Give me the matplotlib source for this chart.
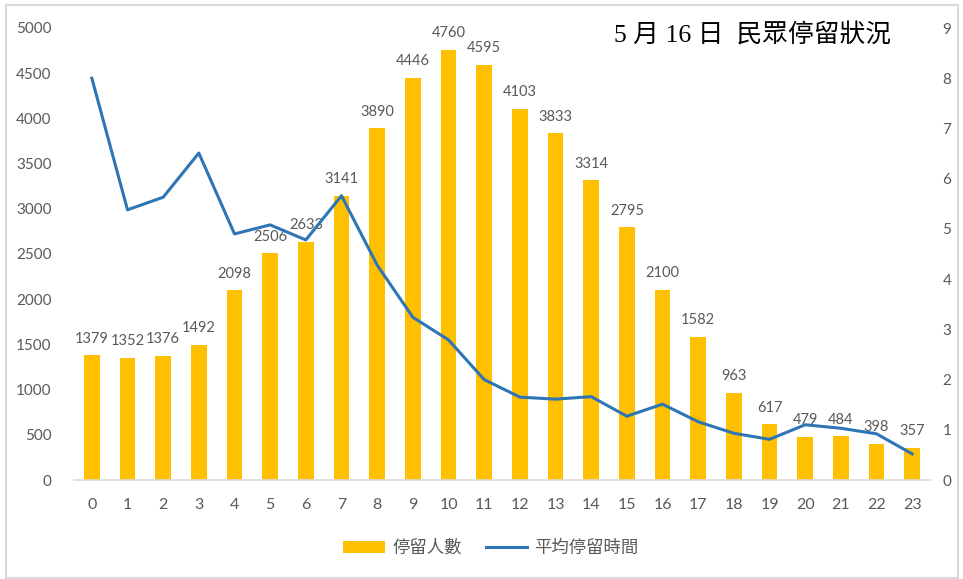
import matplotlib
matplotlib.use("Agg")
import matplotlib.pyplot as plt
from matplotlib.patches import Rectangle
import numpy as np

# hourly data for 5/16
hours = list(range(24))
people = [1379, 1352, 1376, 1492, 2098, 2506, 2633, 3141, 3890, 4446, 4760, 4595,
          4103, 3833, 3314, 2795, 2100, 1582, 963, 617, 479, 484, 398, 357]
avg_stay = [8.0, 5.38, 5.63, 6.51, 4.90, 5.08, 4.78, 5.66, 4.28, 3.24, 2.79, 2.0,
            1.65, 1.61, 1.66, 1.27, 1.51, 1.16, 0.93, 0.81, 1.10, 1.03, 0.92, 0.52]

left_ticks = [0, 500, 1000, 1500, 2000, 2500, 3000, 3500, 4000, 4500, 5000]
right_ticks = list(range(10))

title = "5 月 16 日  民眾停留狀況"
bar_name = "停留人數"
line_name = "平均停留時間"

BAR_C = "#FFC000"
LINE_C = "#2E75B6"
GREY = "#595959"
CJK = ["Noto Sans CJK TC", "DejaVu Sans"]

fig = plt.figure(figsize=(9.63, 5.79), dpi=100)
ax = fig.add_axes([74 / 963, 1 - 480 / 579, (930 - 74) / 963, (480 - 28) / 579])

bars = ax.bar(hours, people, width=0.44, color=BAR_C, label=bar_name, zorder=2)
for h, v in zip(hours, people):
    ax.annotate(str(v), (h, v), xytext=(0, 7), textcoords="offset points",
                ha="center", va="bottom", fontsize=10.5, color=GREY, family="Lato")

ax.set_xlim(-0.5, 23.5)
ax.set_ylim(0, 5000)
ax.set_xticks(hours)
ax.set_yticks(left_ticks)
for s in ["top", "right", "left"]:
    ax.spines[s].set_visible(False)
ax.spines["bottom"].set_color("#D9D9D9")
ax.spines["bottom"].set_linewidth(1.2)
ax.tick_params(axis="x", length=0, pad=13, labelsize=11.5, labelcolor=GREY)
ax.tick_params(axis="y", length=0, pad=16, labelsize=11, labelcolor=GREY)
for lab in ax.get_xticklabels() + ax.get_yticklabels():
    lab.set_family("Lato")

ax2 = ax.twinx()
line, = ax2.plot(hours, avg_stay, color=LINE_C, lw=2.2, label=line_name, zorder=3)
ax2.set_ylim(0, 9)
ax2.set_yticks(right_ticks)
for s in ["top", "right", "left", "bottom"]:
    ax2.spines[s].set_visible(False)
ax2.tick_params(axis="y", length=0, pad=9, labelsize=11, labelcolor=GREY)
for lab in ax2.get_yticklabels():
    lab.set_family("Lato")

fig.text(752 / 963, 1 - 36 / 579, title, ha="center", va="center", fontsize=18.5,
         color="black", family=["Liberation Serif", "Noto Sans CJK TC"])

leg = fig.legend([bars, line], [bar_name, line_name], loc="center",
                 bbox_to_anchor=(491 / 963, 1 - 548 / 579), ncol=2, frameon=False,
                 prop={"family": CJK, "size": 12.5}, handlelength=2.4,
                 columnspacing=1.4, handletextpad=0.4)
for t in leg.get_texts():
    t.set_color(GREY)

# light frame round the whole chart
fig.patches.append(Rectangle((6 / 963, 1 / 579), 952 / 963, 573 / 579,
                             transform=fig.transFigure, fill=False,
                             edgecolor="#D9D9D9", lw=1.5))

fig.savefig("out.png", dpi=100)
